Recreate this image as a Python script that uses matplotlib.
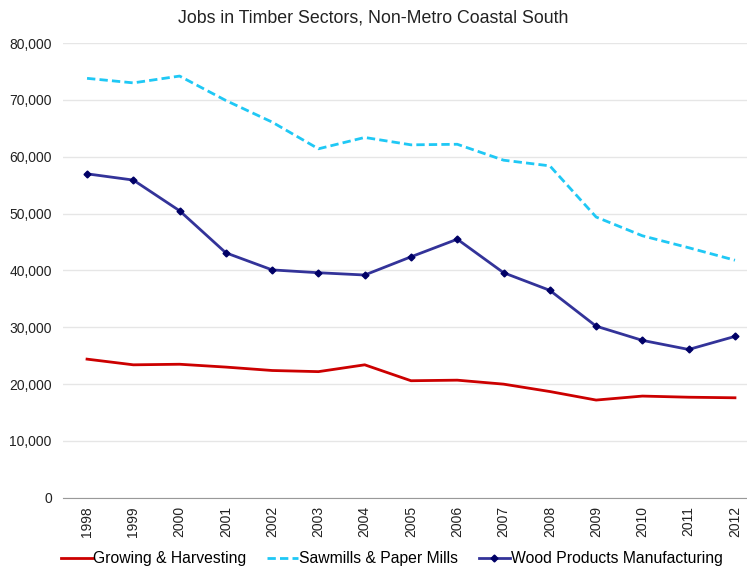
import matplotlib.pyplot as plt
from matplotlib.ticker import FuncFormatter

years = list(range(1998, 2013))
growing = [24400, 23400, 23500, 23000, 22400, 22200, 23400, 20600, 20700, 20000, 18700, 17200, 17900, 17700, 17600]
sawmills = [73800, 73000, 74200, 69900, 66100, 61400, 63400, 62100, 62200, 59400, 58400, 49400, 46100, 44000, 41800]
wood = [57000, 55900, 50500, 43100, 40100, 39600, 39200, 42400, 45500, 39600, 36500, 30200, 27700, 26100, 28400]

plt.rcParams['font.family'] = ['Liberation Sans', 'DejaVu Sans']

fig = plt.figure(figsize=(7.47, 5.67), dpi=100)
ax = fig.add_axes([0.0843, 0.122, 0.9157, 0.802])

ax.plot(years, growing, color='#CC0000', lw=2, label='Growing & Harvesting')
ax.plot(years, sawmills, color='#1FC8F5', lw=2, ls=(0, (3, 1.5)), label='Sawmills & Paper Mills')
ax.plot(years, wood, color='#333399', lw=2, marker='D', ms=3.5,
        mfc='#000066', mec='#000066', label='Wood Products Manufacturing')

ax.set_xlim(1997.48, 2012.26)
ax.set_ylim(0, 80000)
ax.set_yticks(range(0, 80001, 10000))
ax.yaxis.set_major_formatter(FuncFormatter(lambda v, p: f'{int(v):,}'))
ax.set_xticks(years)
ax.set_xticklabels([str(y) for y in years], rotation=90)
ax.tick_params(axis='both', length=0, labelsize=10, colors='#222222')
ax.tick_params(axis='x', pad=6)
ax.tick_params(axis='y', pad=8)
ax.grid(axis='y', color='#E6E6E6', lw=1)
ax.set_axisbelow(True)
for s in ['top', 'right', 'left']:
    ax.spines[s].set_visible(False)
ax.spines['bottom'].set_color('#999999')

fig.text(0.5, 0.968, 'Jobs in Timber Sectors, Non-Metro Coastal South', fontsize=12.8,
         color='#222222', ha='center', va='center')

fig.legend(loc='lower left', bbox_to_anchor=(0.063, -0.024), ncol=3, frameon=False,
           fontsize=11.3, handlelength=2.0, handletextpad=0.05, columnspacing=1.3)

fig.savefig('out.png', dpi=100)
